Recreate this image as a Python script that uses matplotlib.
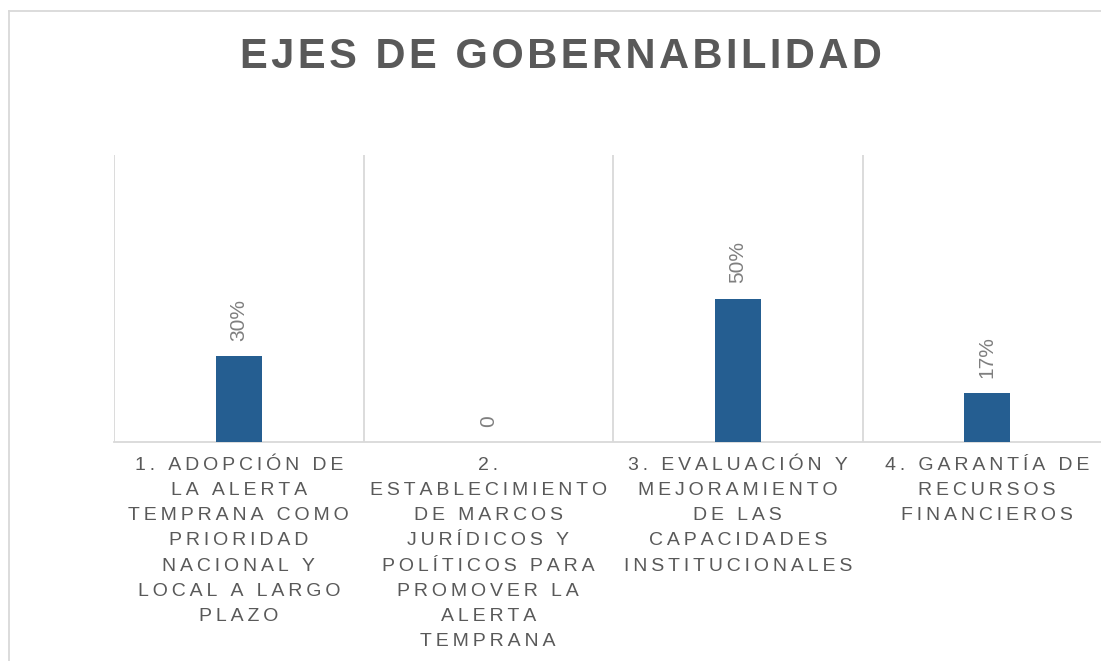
import matplotlib.pyplot as plt
from matplotlib.lines import Line2D

plt.rcParams['font.family'] = ['Liberation Sans', 'DejaVu Sans']

categorias = [
    "1. ADOPCIÓN DE\nLA ALERTA\nTEMPRANA COMO\nPRIORIDAD\nNACIONAL Y\nLOCAL A LARGO\nPLAZO",
    "2.\nESTABLECIMIENTO\nDE MARCOS\nJURÍDICOS Y\nPOLÍTICOS PARA\nPROMOVER LA\nALERTA\nTEMPRANA",
    "3. EVALUACIÓN Y\nMEJORAMIENTO\nDE LAS\nCAPACIDADES\nINSTITUCIONALES",
    "4. GARANTÍA DE\nRECURSOS\nFINANCIEROS",
]
valores = [0.30, 0.0, 0.50, 0.17]
etiquetas = ["30%", "0", "50%", "17%"]
titulo = "EJES DE GOBERNABILIDAD"

gris_texto = '#595959'
gris_linea = '#d9d9d9'
azul = '#255e91'


def espaciar(texto, sep):
    # separa las letras para imitar el espaciado de caracteres de Excel
    return "\n".join(sep.join(linea) for linea in texto.split("\n"))


fig = plt.figure(figsize=(11.01, 6.61), dpi=100)
ax = fig.add_axes([114 / 1101, 1 - 442 / 661, 998 / 1101, 287 / 661])

x = list(range(len(categorias)))
ax.bar(x, valores, width=0.185, color=azul, zorder=3)

for xi, v, lab in zip(x, valores, etiquetas):
    ax.annotate(lab, (xi, v), xytext=(0, 11), textcoords='offset points',
                rotation=90, ha='center', va='bottom', fontsize=15, color='#7f7f7f')

for b in [-0.5, 0.5, 1.5, 2.5, 3.5]:
    ax.axvline(b, color=gris_linea, lw=1.3, zorder=1)

ax.set_xlim(-0.5, 3.5)
ax.set_ylim(0, 1)
ax.set_yticks([])
ax.set_xticks(x)
ax.set_xticklabels([espaciar(c, '\u2009') for c in categorias], fontsize=14,
                   color=gris_texto)
for t in ax.get_xticklabels():
    t.set_linespacing(1.62)
ax.tick_params(axis='x', length=0, pad=11)
for s in ['top', 'right', 'left']:
    ax.spines[s].set_visible(False)
ax.spines['bottom'].set_color(gris_linea)
ax.spines['bottom'].set_linewidth(1.3)

fig.text(561 / 1101, 1 - 57 / 661, espaciar(titulo, '\u200a'), ha='center', va='center',
         fontsize=30, fontweight='bold', color=gris_texto)

# borde del gráfico
fig.add_artist(Line2D([9 / 1101, 1], [1 - 11 / 661, 1 - 11 / 661], color=gris_linea, lw=1.3))
fig.add_artist(Line2D([9 / 1101, 9 / 1101], [0, 1 - 11 / 661], color=gris_linea, lw=1.3))

fig.savefig('out.png', dpi=100)
